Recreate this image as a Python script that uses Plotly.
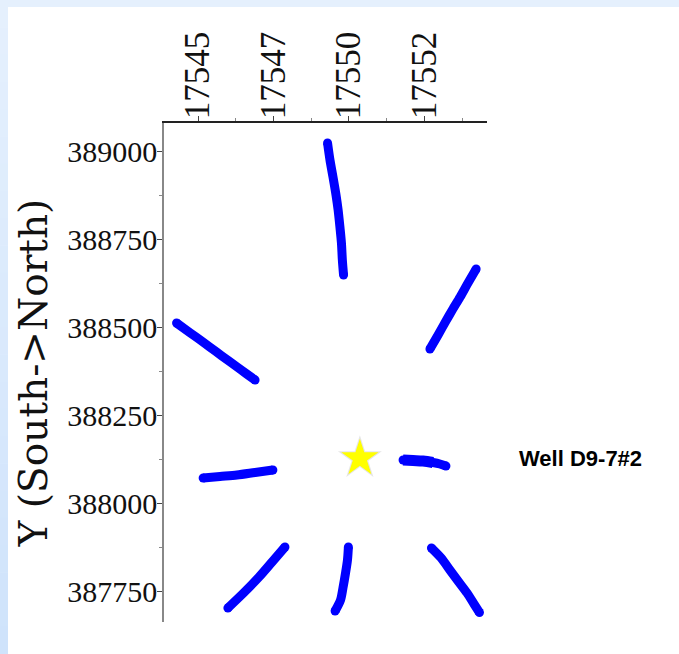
import plotly.graph_objects as go

# Microseismic event traces around the well (easting, northing)
north_x = [17549.29, 17549.37, 17549.47, 17549.57, 17549.64, 17549.70, 17549.75, 17549.78, 17549.82]
north_y = [389024.7, 388976.4, 388928.2, 388877.1, 388834.5, 388786.2, 388740.8, 388692.5, 388649.9]

northeast_x = [17554.21, 17553.94, 17553.68, 17553.44, 17553.21, 17552.95, 17552.68]
northeast_y = [388667.0, 388627.2, 388587.5, 388553.4, 388519.4, 388479.6, 388439.9]

northwest_x = [17544.29, 17544.74, 17545.17, 17545.60, 17545.96, 17546.29, 17546.59, 17546.89]
northwest_y = [388513.7, 388485.9, 388459.2, 388432.2, 388409.5, 388389.1, 388370.3, 388351.9]

west_x = [17545.17, 17545.73, 17546.29, 17546.89, 17547.48]
west_y = [388073.6, 388077.9, 388082.1, 388089.3, 388096.4]

east_x = [17551.79, 17552.12, 17552.45, 17552.78, 17553.01, 17553.21]
east_y = [388124.7, 388123.3, 388121.9, 388117.6, 388113.4, 388107.7]

southwest_x = [17547.88, 17547.46, 17547.02, 17546.52, 17545.99]
southwest_y = [387877.8, 387836.0, 387792.6, 387748.1, 387704.6]

south_x = [17549.98, 17549.95, 17549.88, 17549.80, 17549.72, 17549.54]
south_y = [387877.8, 387840.8, 387801.1, 387761.3, 387727.3, 387696.0]

southeast_x = [17552.73, 17553.05, 17553.34, 17553.61, 17553.91, 17554.14, 17554.32]
southeast_y = [387874.9, 387846.6, 387812.4, 387781.2, 387747.1, 387715.9, 387691.8]

# Well location
well_x = [17550.36]
well_y = [388129.6]
well_name = "Well D9-7#2"

# Axis ticks
x_tick_vals = [17545, 17547.5, 17550, 17552.5]
x_tick_text = ["17545", "17547", "17550", "17552"]
x_minor_vals = [17546.25, 17548.75, 17551.25, 17553.75]
y_tick_vals = [387750, 388000, 388250, 388500, 388750, 389000]
y_tick_text = ["387750", "388000", "388250", "388500", "388750", "389000"]
y_minor_vals = [387875, 388125, 388375, 388625, 388875]

x_range = [17543.874, 17554.57]
y_range = [387664.8, 389081.5]

segments = [
    (north_x, north_y), (northeast_x, northeast_y), (northwest_x, northwest_y),
    (west_x, west_y), (east_x, east_y), (southwest_x, southwest_y),
    (south_x, south_y), (southeast_x, southeast_y),
]

BLUE = "#0000ff"
fig = go.Figure()
for sx, sy in segments:
    # line body
    fig.add_trace(go.Scatter(
        x=sx, y=sy, mode="lines",
        line=dict(color=BLUE, width=9, shape="spline", smoothing=0.8),
        hoverinfo="skip", showlegend=False,
    ))
    # rounded end caps
    fig.add_trace(go.Scatter(
        x=[sx[0], sx[-1]], y=[sy[0], sy[-1]], mode="markers",
        marker=dict(color=BLUE, size=9, line=dict(width=0)),
        hoverinfo="skip", showlegend=False,
    ))

# thicker start of the east trace
fig.add_trace(go.Scatter(
    x=east_x[:4], y=east_y[:4], mode="lines",
    line=dict(color=BLUE, width=11, shape="spline"),
    hoverinfo="skip", showlegend=False,
))

# soft shadow behind the well star
fig.add_trace(go.Scatter(
    x=well_x, y=well_y, mode="markers",
    marker=dict(symbol="star", size=33, color="rgba(110,110,110,0.18)", line=dict(width=0)),
    hoverinfo="skip", showlegend=False,
))
fig.add_trace(go.Scatter(
    x=well_x, y=well_y, mode="markers",
    marker=dict(symbol="star", size=28, color="#ffff00", line=dict(width=0)),
    hoverinfo="skip", showlegend=False,
))

W, H = 679, 654
L, R, T, B = 164, 487, 123, 622


def px(xp):
    return (xp - L) / (R - L)


def py(yp):
    return (B - yp) / (B - T)


shapes = []
# top band of the frame
shapes.append(dict(type="rect", xref="paper", yref="paper",
                   x0=px(0), x1=px(W), y0=py(7), y1=py(0),
                   fillcolor="#e5f0fd", line=dict(width=0), layer="above"))
# left band of the frame, darkening towards the bottom
n_bands = 24
c_top = (229, 240, 253)
c_bot = (207, 227, 251)
for i in range(n_bands):
    t = i / (n_bands - 1)
    c = tuple(round(a + (b - a) * t) for a, b in zip(c_top, c_bot))
    y0 = H * i / n_bands
    y1 = H * (i + 1) / n_bands
    shapes.append(dict(type="rect", xref="paper", yref="paper",
                       x0=px(0), x1=px(8), y0=py(y1 + 0.5), y1=py(y0),
                       fillcolor="rgb(%d,%d,%d)" % c, line=dict(width=0), layer="above"))

fig.update_layout(
    width=W, height=H,
    margin=dict(l=L, r=W - R, t=T, b=H - B, pad=0),
    paper_bgcolor="white", plot_bgcolor="white",
    shapes=shapes,
    showlegend=False,
    xaxis=dict(
        side="top", range=x_range, autorange=False,
        tickmode="array", tickvals=x_tick_vals, ticktext=x_tick_text,
        tickangle=-90, ticks="outside", ticklen=5, tickwidth=1, tickcolor="#444",
        ticklabelstandoff=-10,
        tickfont=dict(family="Liberation Serif", size=35, color="#111"),
        showline=True, linecolor="#222", linewidth=1.5, mirror=False,
        showgrid=False, zeroline=False,
        minor=dict(tickmode="array", tickvals=x_minor_vals, ticks="outside",
                   ticklen=3, tickcolor="#888", tickwidth=1, showgrid=False),
    ),
    yaxis=dict(
        range=y_range, autorange=False,
        tickmode="array", tickvals=y_tick_vals, ticktext=y_tick_text,
        ticks="outside", ticklen=5, tickwidth=1, tickcolor="#444",
        ticklabelstandoff=-6,
        tickfont=dict(family="Liberation Serif", size=30, color="#111"),
        showline=True, linecolor="#888", linewidth=1.5, mirror=False,
        showgrid=False, zeroline=False,
        title=dict(text="Y (South->North)", standoff=8,
                   font=dict(family="DejaVu Serif", size=39, color="#111")),
        minor=dict(tickmode="array", tickvals=y_minor_vals, ticks="outside",
                   ticklen=3, tickcolor="#888", tickwidth=1, showgrid=False),
    ),
    annotations=[dict(
        text="<b>%s</b>" % well_name, xref="paper", yref="y",
        x=px(580), y=well_y[0], xanchor="center", yanchor="middle",
        showarrow=False,
        font=dict(family="Liberation Sans", size=22, color="#000"),
    )],
)

fig.write_html("out.html")
